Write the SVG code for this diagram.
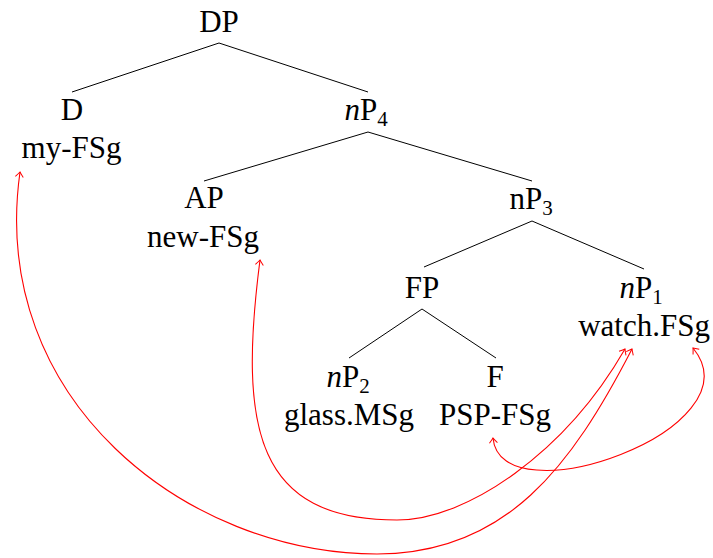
<svg xmlns="http://www.w3.org/2000/svg" width="713" height="558" viewBox="0 0 713 558">
<style>
text{font-family:"Liberation Serif","Times New Roman",serif;font-size:31px;fill:#000;text-anchor:middle}
.it{font-style:italic}
.sub{font-size:21px}
.edge{stroke:#000;stroke-width:1;fill:none}
.mv{stroke:#ff0000;stroke-width:1.1;fill:none;marker-start:url(#ah);marker-end:url(#ah)}
</style>
<defs>
<marker id="ah" markerUnits="userSpaceOnUse" viewBox="-6 -5 7 10" refX="0" refY="0" markerWidth="7" markerHeight="10" orient="auto-start-reverse">
<path d="M-5,-4 Q-1.5,-1 0,0 Q-1.5,1 -5,4" stroke="#ff0000" stroke-width="1" fill="none"/>
</marker>
</defs>
<rect width="713" height="558" fill="#fff"/>
<g id="connectors">
<line class="edge" x1="219" y1="43" x2="72" y2="92"/>
<line class="edge" x1="219" y1="43" x2="368" y2="92"/>
<line class="edge" x1="368" y1="132" x2="204" y2="181"/>
<line class="edge" x1="368" y1="132" x2="532" y2="181"/>
<line class="edge" x1="532" y1="221" x2="424" y2="267"/>
<line class="edge" x1="532" y1="221" x2="644" y2="269"/>
<line class="edge" x1="422" y1="309" x2="349" y2="358"/>
<line class="edge" x1="422" y1="309" x2="496" y2="358"/>
<path class="mv" d="M20,172 C-12,400 187,554 377,554 C507,554 572,465 632,349"/>
<path class="mv" d="M260,260 C238,430 257,520 397,520 C467,520 565,453 625,349"/>
<path class="mv" d="M493,438 C500,520 760,430 693,348"/>
</g>
<g id="DP"><text x="219" y="32">DP</text></g>
<g id="D"><text x="72" y="120">D</text><text x="71.5" y="158">my-FSg</text></g>
<g id="nP4"><text x="366" y="120"><tspan class="it">n</tspan>P<tspan class="sub" dy="6">4</tspan></text></g>
<g id="AP"><text x="204" y="208">AP</text><text x="203" y="247">new-FSg</text></g>
<g id="nP3"><text x="531" y="209">nP<tspan class="sub" dy="6">3</tspan></text></g>
<g id="FP"><text x="422" y="298">FP</text></g>
<g id="nP1"><text x="641" y="298"><tspan class="it">n</tspan>P<tspan class="sub" dy="6">1</tspan></text><text x="644" y="336">watch.FSg</text></g>
<g id="nP2"><text x="348" y="387"><tspan class="it">n</tspan>P<tspan class="sub" dy="6">2</tspan></text><text x="349" y="425">glass.MSg</text></g>
<g id="F"><text x="495" y="387">F</text><text x="495" y="425">PSP-FSg</text></g>
</svg>
